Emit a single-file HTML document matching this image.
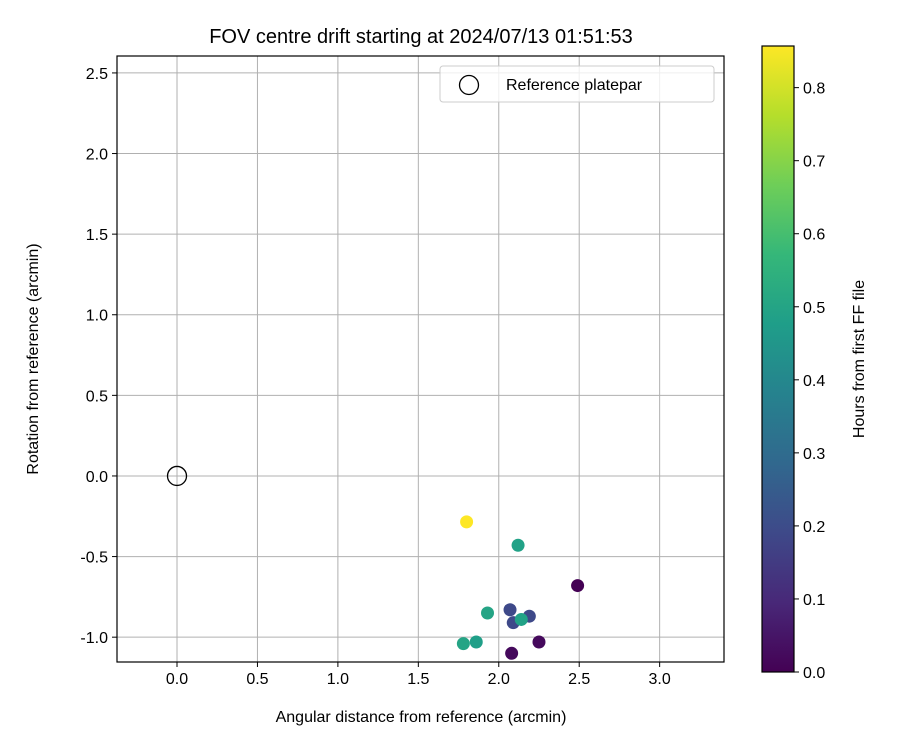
<!DOCTYPE html>
<html><head><meta charset="utf-8"><style>
body{margin:0;background:#fff;font-family:"Liberation Sans",sans-serif}
</style></head><body>
<svg width="900" height="750" xmlns="http://www.w3.org/2000/svg" font-family="Liberation Sans, sans-serif">
<defs><linearGradient id="vir" x1="0" y1="1" x2="0" y2="0">
<stop offset="0" stop-color="#440154"/><stop offset="0.111" stop-color="#482878"/><stop offset="0.222" stop-color="#3e4989"/><stop offset="0.333" stop-color="#31688e"/><stop offset="0.444" stop-color="#26828e"/><stop offset="0.556" stop-color="#1f9e89"/><stop offset="0.667" stop-color="#35b779"/><stop offset="0.778" stop-color="#6ece58"/><stop offset="0.889" stop-color="#b5de2b"/><stop offset="1" stop-color="#fde725"/>
</linearGradient></defs>
<g id="plot"></g>
</svg>
<script>
const xs=[1.80,2.12,2.49,1.93,2.07,2.19,2.09,2.14,1.86,1.78,2.25,2.08];
const ys=[-0.285,-0.43,-0.68,-0.85,-0.83,-0.87,-0.91,-0.89,-1.03,-1.04,-1.03,-1.10];
const hours=[0.857,0.49,0.0,0.50,0.19,0.19,0.19,0.49,0.48,0.50,0.02,0.02];
const xTicks=[0,0.5,1,1.5,2,2.5,3];
const yTicks=[-1,-0.5,0,0.5,1,1.5,2,2.5];
const cTicks=[0,0.1,0.2,0.3,0.4,0.5,0.6,0.7,0.8];
const NS='http://www.w3.org/2000/svg';
const L=117,R=724,T=56,B=662,xmin=-0.373,xmax=3.40,ymin=-1.154,ymax=2.605;
const X=v=>L+(v-xmin)/(xmax-xmin)*(R-L), Y=v=>B-(v-ymin)/(ymax-ymin)*(B-T);
const CT=46,CB=672,CL=762,CR=794,cmax=0.857;
const CY=v=>CB-v/cmax*(CB-CT);
const g=document.getElementById('plot');
function mk(t,a,txt){const e=document.createElementNS(NS,t);for(const k in a)e.setAttribute(k,a[k]);if(txt!=null)e.textContent=txt;g.appendChild(e);return e;}
const vir=[[68,1,84],[72,40,120],[62,73,137],[49,104,142],[38,130,142],[31,158,137],[53,183,121],[110,206,88],[181,222,43],[253,231,37]];
function col(v){let t=Math.max(0,Math.min(1,v/cmax))*(vir.length-1);let i=Math.min(vir.length-2,Math.floor(t)),f=t-i;const c=vir[i].map((a,k)=>Math.round(a+(vir[i+1][k]-a)*f));return `rgb(${c})`;}
xTicks.forEach(v=>{const l=mk('line',{x1:X(v),x2:X(v),y1:T,y2:B,stroke:'#b0b0b0','stroke-width':1});
mk('line',{x1:X(v),x2:X(v),y1:B,y2:B+5,stroke:'#000'});
const t=mk('text',{x:X(v),y:B+22,'text-anchor':'middle','font-size':16},v.toFixed(1));});
yTicks.forEach(v=>{const l=mk('line',{x1:L,x2:R,y1:Y(v),y2:Y(v),stroke:'#b0b0b0','stroke-width':1});
mk('line',{x1:L-5,x2:L,y1:Y(v),y2:Y(v),stroke:'#000'});
const t=mk('text',{x:L-9,y:Y(v)+6,'text-anchor':'end','font-size':16},v.toFixed(1));});
xs.forEach((x,i)=>{const c=mk('circle',{cx:X(x),cy:Y(ys[i]),r:6.5,fill:col(hours[i])});});
const ref=mk('circle',{cx:X(0),cy:Y(0),r:9.5,fill:'none',stroke:'#000','stroke-width':1.3});
const fr=mk('rect',{x:L,y:T,width:R-L,height:B-T,fill:'none',stroke:'#000','stroke-width':1.2});
const lg=mk('rect',{x:440,y:66,width:274,height:36,rx:3,fill:'#fff',stroke:'#ccc','fill-opacity':0.8});
mk('circle',{cx:469,cy:85,r:9.5,fill:'none',stroke:'#000','stroke-width':1.3});
const lt=mk('text',{x:506,y:90,'font-size':16},'Reference platepar');
const ti=mk('text',{x:421,y:43,'text-anchor':'middle','font-size':20},'FOV centre drift starting at 2024/07/13 01:51:53');
const xt=mk('text',{x:421,y:722,'text-anchor':'middle','font-size':16},'Angular distance from reference (arcmin)');
const yt=mk('text',{x:0,y:0,'text-anchor':'middle','font-size':16,transform:`translate(38,${(T+B)/2}) rotate(-90)`},'Rotation from reference (arcmin)');
const cb=mk('rect',{x:CL,y:CT,width:CR-CL,height:CB-CT,fill:'url(#vir)',stroke:'#000','stroke-width':1.2});
cTicks.forEach(v=>{mk('line',{x1:CR,x2:CR+5,y1:CY(v),y2:CY(v),stroke:'#000'});
const t=mk('text',{x:CR+9,y:CY(v)+6,'font-size':16},v.toFixed(1));});
const ct=mk('text',{x:0,y:0,'text-anchor':'middle','font-size':16,transform:`translate(864,${(CT+CB)/2}) rotate(-90)`},'Hours from first FF file');
</script>
</body></html>
